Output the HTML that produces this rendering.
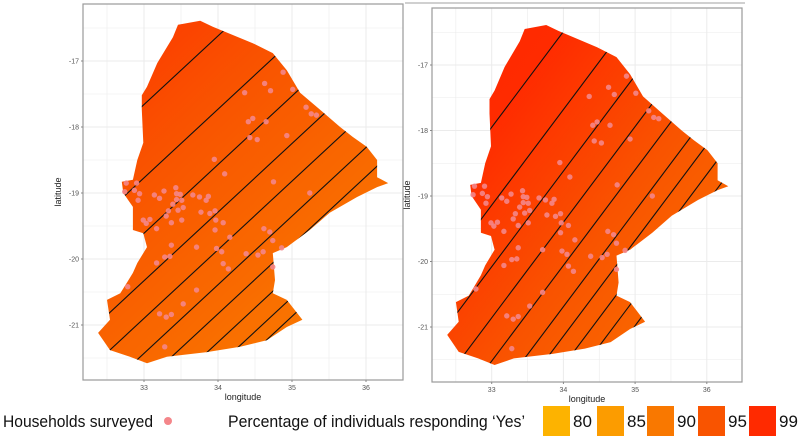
<!DOCTYPE html>
<html><head><meta charset="utf-8">
<style>
html,body{margin:0;padding:0;background:#fff;}
body{width:800px;height:439px;overflow:hidden;font-family:"Liberation Sans",sans-serif;}
svg{display:block;overflow:hidden;}
</style></head>
<body>
<svg id="chart" width="800" height="439" viewBox="0 0 800 439" xmlns="http://www.w3.org/2000/svg">
<defs id="defs"></defs>
<line x1="405" y1="3" x2="745" y2="3" stroke="#d0d0d0" stroke-width="2"/>
<g id="panels"></g>
<g id="legend" font-family="Liberation Sans, sans-serif" font-size="17" fill="#111">
  <text x="3" y="427" textLength="150" lengthAdjust="spacingAndGlyphs">Households surveyed</text>
  <circle cx="168" cy="421" r="4" fill="#f4868a"/>
  <text x="228" y="427" textLength="297" lengthAdjust="spacingAndGlyphs">Percentage of individuals responding ‘Yes’</text>
</g>
</svg>
<script>
const NS="http://www.w3.org/2000/svg";
const lonTicks=[33,34,35,36];
const latTicks=[-17,-18,-19,-20,-21];
const legendValues=[80,85,90,95,99];
const cmapValues=[80,85,90,95,99];
const cmapColors=["#fdb300","#fc9c00","#f97800","#f95400","#ff2a00"];
const boundaryLon=[33.76,33.93,34.47,34.74,34.93,35.11,35.38,35.65,35.82,36.01,36.15,36.15,36.30,36.15,35.88,35.51,35.24,34.93,34.74,34.77,34.74,34.93,35.14,34.93,34.66,34.30,33.85,33.31,33.04,32.81,32.54,32.38,32.54,32.50,32.68,32.85,32.91,33.04,32.99,32.85,32.85,32.72,32.70,32.85,32.91,32.99,32.97,32.97,33.04,33.18,33.39,33.46];
const boundaryLat=[-16.39,-16.48,-16.73,-16.88,-17.14,-17.48,-17.74,-18.00,-18.15,-18.30,-18.50,-18.76,-18.85,-18.91,-19.06,-19.30,-19.56,-19.82,-19.91,-20.32,-20.52,-20.62,-20.92,-21.03,-21.23,-21.33,-21.41,-21.48,-21.58,-21.48,-21.38,-21.12,-20.92,-20.62,-20.52,-20.21,-20.06,-19.82,-19.61,-19.56,-19.21,-19.00,-18.83,-18.80,-18.50,-18.24,-17.74,-17.52,-17.39,-17.03,-16.64,-16.45];
const hhLon=[34.88,34.63,34.71,34.36,35.01,35.19,35.26,35.33,34.41,34.47,34.65,34.93,34.43,34.53,33.95,34.09,34.75,35.24,32.76,32.90,32.74,32.87,32.94,32.92,33.14,33.27,33.43,33.44,33.49,33.21,33.44,33.51,33.39,33.53,33.46,33.33,33.66,33.75,33.87,33.84,33.77,33.89,33.96,33.30,33.37,33.51,33.17,32.99,33.08,33.03,33.97,34.07,33.96,34.16,33.37,33.28,33.35,33.71,33.98,34.05,33.17,34.07,34.14,34.38,34.54,34.61,34.74,34.74,34.86,34.62,34.70,32.78,33.71,33.53,33.21,33.30,33.37,33.28];
const hhLat=[-17.17,-17.34,-17.45,-17.48,-17.43,-17.70,-17.80,-17.82,-17.92,-17.87,-17.92,-18.13,-18.16,-18.19,-18.49,-18.71,-18.83,-19.00,-18.85,-18.85,-18.98,-18.96,-19.01,-19.11,-19.03,-18.97,-18.92,-19.01,-19.02,-19.08,-19.10,-19.11,-19.17,-19.22,-19.26,-19.27,-19.03,-19.06,-19.05,-19.11,-19.29,-19.31,-19.27,-19.35,-19.45,-19.41,-19.54,-19.41,-19.40,-19.46,-19.41,-19.45,-19.56,-19.67,-19.79,-19.97,-19.96,-19.82,-19.84,-19.89,-20.06,-20.07,-20.15,-19.92,-19.94,-19.89,-20.12,-19.72,-19.83,-19.54,-19.59,-20.42,-20.47,-20.68,-20.83,-20.88,-20.84,-21.33];
const leftLevels=[96.02,94.91,94.07,93.35,92.78,92.25,91.81,91.38,91.02,90.73];
const rightLevels=[98.87,97.68,96.74,95.96,95.30,94.67,94.22,93.77,93.34,92.92];
const leftBase=148, leftSlope=1.04;
const rightBase=165, rightSlope=1.46;

function hex2rgb(h){return [1,3,5].map(i=>parseInt(h.substr(i,2),16));}
function cmap(v){
  if(v<=cmapValues[0])return cmapColors[0];
  for(let i=1;i<cmapValues.length;i++){
    if(v<=cmapValues[i]){
      const t=(v-cmapValues[i-1])/(cmapValues[i]-cmapValues[i-1]);
      const a=hex2rgb(cmapColors[i-1]),b=hex2rgb(cmapColors[i]);
      return "rgb("+a.map((c,j)=>Math.round(c+(b[j]-c)*t)).join(",")+")";
    }
  }
  return cmapColors[cmapColors.length-1];
}
function mk(tag,attrs,parent){const e=document.createElementNS(NS,tag);for(const k in attrs)e.setAttribute(k,attrs[k]);if(parent)parent.appendChild(e);return e;}

function panel(cfg){
  const g=mk("g",{},document.getElementById("panels"));
  
  
  const X=lon=>cfg.x0+(lon-32)*cfg.kx;
  const Y=lat=>cfg.y0+(-17-lat)*cfg.ky;
  const L=cfg.box[0],T=cfg.box[1],R=cfg.box[2],B=cfg.box[3];
  const grid=mk("g",{},g);
  
  
  for(let lon=32.5;lon<=36.51;lon+=0.5){const x=X(lon);if(x>L&&x<R){const ln=mk("line",{x1:x,x2:x,y1:T,y2:B,stroke:"#ebebeb","stroke-width":Number.isInteger(lon)?1:0.6},grid);}}
  for(let lat=-16.5;lat>=-21.51;lat-=0.5){const y=Y(lat);if(y>T&&y<B){const ln=mk("line",{x1:L,x2:R,y1:y,y2:y,stroke:"#ebebeb","stroke-width":Number.isInteger(lat)?1:0.6},grid);}}
  const f=(x,y)=>{const lon=32+(x-cfg.x0)/cfg.kx, lat=-17-(y-cfg.y0)/cfg.ky;return cfg.base+(lat-cfg.slope*lon);};
  const cx=(L+R)/2, cy=(T+B)/2;
  const gx=f(cx+1,cy)-f(cx,cy), gy=f(cx,cy+1)-f(cx,cy);
  const n=Math.hypot(gx,gy), ux=gx/n, uy=gy/n, D=300;
  const p1=[cx-ux*D,cy-uy*D], p2=[cx+ux*D,cy+uy*D];
  const defs=document.getElementById("defs");
  const lg=mk("linearGradient",{id:cfg.id+"-grad",gradientUnits:"userSpaceOnUse",x1:p1[0],y1:p1[1],x2:p2[0],y2:p2[1]},defs);
  for(let i=0;i<=20;i++){const t=i/20;const v=f(p1[0]+(p2[0]-p1[0])*t,p1[1]+(p2[1]-p1[1])*t);mk("stop",{offset:t,"stop-color":cmap(v)},lg);}
  const pts=boundaryLon.map((lon,i)=>X(lon).toFixed(1)+","+Y(boundaryLat[i]).toFixed(1)).join(" ");
  const cp=mk("clipPath",{id:cfg.id+"-clip"},defs);
  mk("polygon",{points:pts},cp);
  const poly=mk("polygon",{points:pts,fill:"url(#"+cfg.id+"-grad)",stroke:"none"},g);
  
  
  const cg=mk("g",{"clip-path":"url(#"+cfg.id+"-clip)"},g);
  
  
  cfg.levels.forEach(v=>{
    const k=v-cfg.base;
    // endpoints where the contour crosses lat -16.3 and -21.7 (stays inside panel)
    const latA=-16.3, latB=-21.7;
    const lonA=(latA-k)/cfg.slope, lonB=(latB-k)/cfg.slope;
    const ln=mk("line",{x1:X(lonA),y1:Y(latA),x2:X(lonB),y2:Y(latB),stroke:"#111","stroke-width":1.1},cg);
    
    
  });
  const hg=mk("g",{},g);
  
  
  hhLon.forEach((lon,i)=>{
    const c=mk("circle",{cx:X(lon),cy:Y(hhLat[i]),r:2.7,fill:"#f4868a","fill-opacity":0.9},hg);
    
    
  });
  const bd=mk("rect",{x:L,y:T,width:R-L,height:B-T,fill:"none",stroke:"#9a9a9a","stroke-width":1.2},g);
  
  
  lonTicks.forEach(lon=>{
    const t=mk("text",{x:X(lon),y:B+10,"font-size":7,fill:"#555","text-anchor":"middle"},g);t.textContent=lon;
    
    
    mk("line",{x1:X(lon),x2:X(lon),y1:B,y2:B+2,stroke:"#888"},g);
  });
  latTicks.forEach(lat=>{
    const t=mk("text",{x:L-4,y:Y(lat)+2.5,"font-size":7,fill:"#555","text-anchor":"end"},g);t.textContent=lat;
    
    
    mk("line",{x1:L-2,x2:L,y1:Y(lat),y2:Y(lat),stroke:"#888"},g);
  });
  const xt=mk("text",{x:(L+R)/2,y:B+20,"font-size":9,fill:"#222","text-anchor":"middle"},g);xt.textContent="longitude";
  
  
  const yy=(T+B)/2;
  const yt=mk("text",{x:L-22,y:yy,"font-size":9,fill:"#222","text-anchor":"middle",transform:"rotate(-90 "+(L-22)+" "+yy+")"},g);yt.textContent="latitude";
  
  
}
panel({name:"left-map-panel",id:"pl",x0:70,kx:74,y0:61,ky:66,box:[83,4,403,380],levels:leftLevels,base:leftBase,slope:leftSlope});
panel({name:"right-map-panel",id:"pr",x0:420,kx:71.7,y0:65,ky:65.5,box:[432,8,742,382],levels:rightLevels,base:rightBase,slope:rightSlope});

const leg=document.getElementById("legend");
const keyX=[543,597,647,698,749];
legendValues.forEach((v,i)=>{
  const r=mk("rect",{x:keyX[i],y:406,width:27,height:30,fill:cmap(v)},leg);
  
  
  const t=mk("text",{x:keyX[i]+30,y:427,"font-size":17},leg);
  t.textContent=v;
  
  
});
</script>
</body></html>
